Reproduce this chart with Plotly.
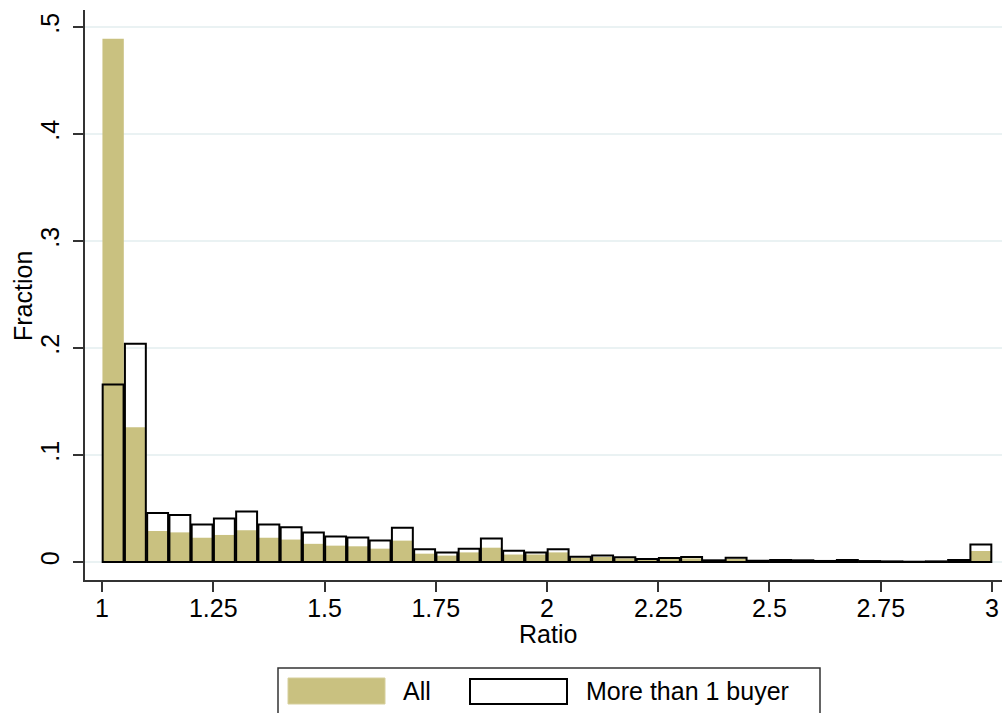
import plotly.graph_objects as go

# Bin left edges (width 0.05) from 1.00 to 2.95
bin_width = 0.05
bin_starts = [round(1.0 + bin_width * i, 2) for i in range(40)]
bin_centers = [round(b + bin_width / 2, 3) for b in bin_starts]

frac_all = [0.489, 0.126, 0.029, 0.0277, 0.0227, 0.0253, 0.0297, 0.0227, 0.021, 0.017,
            0.0153, 0.0147, 0.0125, 0.020, 0.0078, 0.006, 0.009, 0.0134, 0.007, 0.007,
            0.009, 0.004, 0.0047, 0.0034, 0.0022, 0.0028, 0.0034, 0.001, 0.0028, 0.0008,
            0.0013, 0.001, 0.0006, 0.0012, 0.0005, 0.0004, 0.0002, 0.0004, 0.0012, 0.0103]
frac_multi = [0.166, 0.204, 0.0457, 0.044, 0.035, 0.0407, 0.0473, 0.035, 0.0325, 0.0275,
              0.0238, 0.023, 0.020, 0.032, 0.0119, 0.0088, 0.0125, 0.0219, 0.0106, 0.0088,
              0.0119, 0.005, 0.006, 0.0044, 0.0028, 0.0037, 0.0047, 0.0016, 0.004, 0.0012,
              0.002, 0.0016, 0.001, 0.0019, 0.0009, 0.0006, 0.0003, 0.0006, 0.0019, 0.0163]

x_tickvals = [1, 1.25, 1.5, 1.75, 2, 2.25, 2.5, 2.75, 3]
x_ticktext = ["1", "1.25", "1.5", "1.75", "2", "2.25", "2.5", "2.75", "3"]
y_tickvals = [0, 0.1, 0.2, 0.3, 0.4, 0.5]
y_ticktext = ["0", ".1", ".2", ".3", ".4", ".5"]

series_names = ["All", "More than 1 buyer"]
x_title = "Ratio"
y_title = "Fraction"
khaki = "#C9C180"
font_family = "Arial, Liberation Sans, sans-serif"
FS = 25

fig = go.Figure()
fig.add_trace(go.Bar(x=bin_centers, y=frac_all, width=0.048, name=series_names[0],
                     marker=dict(color=khaki, line=dict(width=0)), showlegend=False))
fig.add_trace(go.Bar(x=bin_centers, y=frac_multi, width=0.047, name=series_names[1],
                     marker=dict(color="rgba(0,0,0,0)", line=dict(color="black", width=2)),
                     showlegend=False))

fig.update_layout(
    barmode="overlay",
    width=1002, height=713,
    margin=dict(l=85, r=0, t=10, b=133),
    paper_bgcolor="white", plot_bgcolor="white",
    font=dict(family=font_family, size=FS, color="black"),
    xaxis=dict(range=[0.9618, 3.0225], tickvals=x_tickvals, ticktext=x_ticktext,
               showgrid=False, zeroline=False, showline=True, linecolor="#333333", linewidth=1.5,
               ticks="outside", ticklen=10, tickwidth=1.5, tickcolor="#333333",
               ticklabelstandoff=-5, tickfont=dict(size=FS), automargin=False),
    yaxis=dict(range=[-0.0168, 0.5159], tickvals=y_tickvals, ticktext=y_ticktext,
               showgrid=True, gridcolor="#EAF2F3", gridwidth=2, zeroline=False,
               showline=True, linecolor="#333333", linewidth=1.5,
               ticks="outside", ticklen=10, tickwidth=1.5, tickcolor="#333333",
               tickangle=-90, ticklabelstandoff=4, tickfont=dict(size=FS),
               automargin=False),
)

def px_x(p):
    return (p - 85) / 917

def px_y(p):
    return (580 - p) / 570

# Axis titles
fig.add_annotation(xref="paper", yref="paper", x=px_x(548), y=px_y(634), text=x_title,
                   showarrow=False, xanchor="center", yanchor="middle", font=dict(size=FS))
fig.add_annotation(xref="paper", yref="paper", x=px_x(23), y=px_y(296), text=y_title,
                   textangle=-90, showarrow=False, xanchor="center", yanchor="middle",
                   font=dict(size=FS))

# Manual legend box (Stata style)
fig.add_shape(type="rect", xref="paper", yref="paper",
              x0=px_x(278), x1=px_x(820), y0=px_y(716), y1=px_y(668),
              line=dict(color="#333333", width=1.5), fillcolor="white")
fig.add_shape(type="rect", xref="paper", yref="paper",
              x0=px_x(288), x1=px_x(385), y0=px_y(704), y1=px_y(678),
              line=dict(color="#D6CF9C", width=1), fillcolor=khaki)
fig.add_shape(type="rect", xref="paper", yref="paper",
              x0=px_x(470), x1=px_x(567), y0=px_y(704), y1=px_y(679),
              line=dict(color="black", width=2), fillcolor="white")
fig.add_annotation(xref="paper", yref="paper", x=px_x(401), y=px_y(691), text=series_names[0],
                   showarrow=False, xanchor="left", yanchor="middle", font=dict(size=FS))
fig.add_annotation(xref="paper", yref="paper", x=px_x(584), y=px_y(691), text=series_names[1],
                   showarrow=False, xanchor="left", yanchor="middle", font=dict(size=FS))

fig.write_html("out.html", config={"displayModeBar": False},
               post_script="document.body.style.margin='0px';document.body.style.overflow='hidden';")
